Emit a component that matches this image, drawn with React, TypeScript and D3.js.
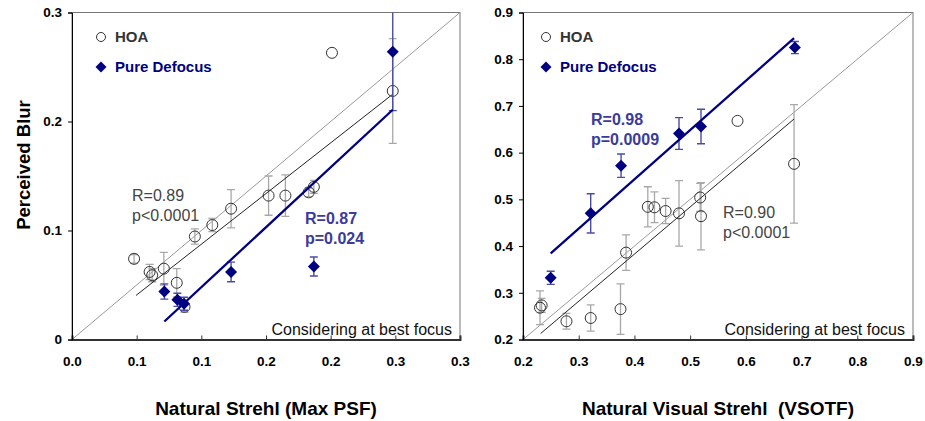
import { useEffect, useRef } from "react";
import * as d3 from "d3";

// ---- left panel: Natural Strehl (Max PSF) ----
const leftHoaX = [0.048, 0.06, 0.062, 0.071, 0.081, 0.087, 0.095, 0.1085, 0.123, 0.152, 0.165, 0.183, 0.187, 0.201, 0.248];
const leftHoaY = [0.074, 0.062, 0.059, 0.065, 0.052, 0.03, 0.0945, 0.105, 0.12, 0.132, 0.132, 0.135, 0.14, 0.263, 0.228];
const leftHoaErr = [0.004, 0.007, 0.006, 0.015, 0.013, 0.005, 0.007, 0.006, 0.0175, 0.018, 0.019, 0.004, 0.006, 0, 0.048];
const leftDefX = [0.0714, 0.0815, 0.0866, 0.123, 0.187, 0.248];
const leftDefY = [0.044, 0.0364, 0.0328, 0.062, 0.067, 0.264];
const leftDefErr = [0.007, 0.006, 0.006, 0.009, 0.0087, 0.054];
// fit lines: [slope, intercept, xStart, xEnd]
const leftHoaFit = [0.93, -0.0056, 0.0495, 0.248];
const leftDefFit = [1.1, -0.062, 0.0714, 0.248];
const leftXTicks = [0, 0.05, 0.1, 0.15, 0.2, 0.25, 0.3];
const leftXLabels = ["0.0", "0.1", "0.1", "0.2", "0.2", "0.3", "0.3"];
const leftYTicks = [0, 0.1, 0.2, 0.3];
const leftYLabels = ["0", "0.1", "0.2", "0.3"];

// ---- right panel: Natural Visual Strehl (VSOTF) ----
const rightHoaX = [0.2305, 0.2335, 0.278, 0.3215, 0.375, 0.385, 0.424, 0.436, 0.456, 0.48, 0.518, 0.5195, 0.585, 0.6865];
const rightHoaY = [0.268, 0.273, 0.239, 0.246, 0.265, 0.386, 0.484, 0.483, 0.475, 0.47, 0.504, 0.464, 0.668, 0.576];
const rightHoaErr = [0.036, 0.015, 0.017, 0.028, 0.054, 0.038, 0.043, 0.033, 0.027, 0.07, 0.03, 0.072, 0, 0.127];
const rightDefX = [0.2497, 0.3215, 0.376, 0.48, 0.5195, 0.688];
const rightDefY = [0.332, 0.47, 0.572, 0.641, 0.656, 0.825];
const rightDefErr = [0.014, 0.042, 0.025, 0.034, 0.037, 0.013];
const rightHoaFit = [1.0095, -0.021, 0.2317, 0.6865];
const rightDefFit = [1.055, 0.1209, 0.2497, 0.6865];
const rightXTicks = [0.2, 0.3, 0.4, 0.5, 0.6, 0.7, 0.8, 0.9];
const rightXLabels = ["0.2", "0.3", "0.4", "0.5", "0.6", "0.7", "0.8", "0.9"];
const rightYTicks = [0.2, 0.3, 0.4, 0.5, 0.6, 0.7, 0.8, 0.9];
const rightYLabels = ["0.2", "0.3", "0.4", "0.5", "0.6", "0.7", "0.8", "0.9"];

const NAVY = "#000080";
const STAT_BLUE = "#3b3b9c";
const FONT = "'Liberation Sans', Arial, Helvetica, sans-serif";

interface PanelProps {
  id: string;
  left: number;
  right: number;
  domain: [number, number];
  hoaX: number[]; hoaY: number[]; hoaErr: number[];
  defX: number[]; defY: number[]; defErr: number[];
  hoaFit: number[]; defFit: number[];
  xTicks: number[]; xLabels: string[];
  yTicks: number[]; yLabels: string[];
  title: string;
  hoaStat: { x: number; y: number; lines: string[] };
  defStat: { x: number; y: number; lines: string[] };
  legendX: number;
}

const TOP = 12.5, BOTTOM = 339.5;

function diamond(cx: number, cy: number, r: number) {
  return `M${cx},${cy - r}L${cx + r},${cy}L${cx},${cy + r}L${cx - r},${cy}Z`;
}

function Panel(p: PanelProps) {
  const xAxRef = useRef<SVGGElement>(null);
  const yAxRef = useRef<SVGGElement>(null);
  const x = d3.scaleLinear().domain(p.domain).range([p.left, p.right]);
  const y = d3.scaleLinear().domain(p.domain).range([BOTTOM, TOP]);

  useEffect(() => {
    const xa = d3.axisBottom(x).tickValues(p.xTicks).tickSize(-4).tickPadding(17)
      .tickFormat((_d, i) => p.xLabels[i]);
    d3.select(xAxRef.current!).call(xa as any)
      .call(g => g.select(".domain").attr("stroke", "#333").attr("stroke-width", 2))
      .call(g => g.selectAll(".tick line").attr("stroke", "#333"))
      .call(g => g.selectAll("text").attr("font-family", FONT).attr("font-weight", "bold")
        .attr("font-size", 13.5).attr("fill", "#000"));
    const ya = d3.axisLeft(y).tickValues(p.yTicks).tickSize(4).tickPadding(6)
      .tickFormat((_d, i) => p.yLabels[i]);
    d3.select(yAxRef.current!).call(ya as any)
      .call(g => g.select(".domain").attr("stroke", "#000"))
      .call(g => g.selectAll(".tick line").attr("stroke", "#000"))
      .call(g => g.selectAll("text").attr("font-family", FONT).attr("font-weight", "bold")
        .attr("font-size", 13.5).attr("fill", "#000"));
  });

  const fitPath = (f: number[]) => d3.line()([[x(f[2]), y(f[0] * f[2] + f[1])], [x(f[3]), y(f[0] * f[3] + f[1])]]) ?? "";
  const cap = 4;
  const cx = (p.left + p.right) / 2;

  return (
    <g>
      <defs>
        <clipPath id={`clip-${p.id}`}>
          <rect x={p.left} y={TOP} width={p.right - p.left} height={BOTTOM - TOP} />
        </clipPath>
      </defs>
      <rect x={p.left} y={TOP} width={p.right - p.left} height={BOTTOM - TOP} fill="#fff" stroke="#777" strokeWidth={1} />
      <g clipPath={`url(#clip-${p.id})`}>
        {/* identity line */}
        <path d={d3.line()([[x(p.domain[0]), y(p.domain[0])], [x(p.domain[1]), y(p.domain[1])]]) ?? ""}
          stroke="#999" strokeWidth={1} fill="none" />
        {/* HOA error bars */}
        {p.hoaX.map((v, i) => p.hoaErr[i] > 0 && (
          <g key={`he${i}`} stroke="#a8a8a8" strokeWidth={1.3}>
            <line x1={x(v)} x2={x(v)} y1={y(p.hoaY[i] - p.hoaErr[i])} y2={y(p.hoaY[i] + p.hoaErr[i])} />
            <line x1={x(v) - cap} x2={x(v) + cap} y1={y(p.hoaY[i] - p.hoaErr[i])} y2={y(p.hoaY[i] - p.hoaErr[i])} />
            <line x1={x(v) - cap} x2={x(v) + cap} y1={y(p.hoaY[i] + p.hoaErr[i])} y2={y(p.hoaY[i] + p.hoaErr[i])} />
          </g>
        ))}
        {/* HOA fit */}
        <path d={fitPath(p.hoaFit)} stroke="#222" strokeWidth={1} fill="none" />
        {/* HOA points */}
        {p.hoaX.map((v, i) => (
          <circle key={`hc${i}`} cx={x(v)} cy={y(p.hoaY[i])} r={5.5} fill="none" stroke="#333" strokeWidth={1} />
        ))}
        {/* Defocus error bars */}
        {p.defX.map((v, i) => (
          <g key={`de${i}`} stroke="#4b4ba6" strokeWidth={1.4}>
            <line x1={x(v)} x2={x(v)} y1={y(p.defY[i] - p.defErr[i])} y2={y(p.defY[i] + p.defErr[i])} />
            <line x1={x(v) - cap} x2={x(v) + cap} y1={y(p.defY[i] - p.defErr[i])} y2={y(p.defY[i] - p.defErr[i])} />
            <line x1={x(v) - cap} x2={x(v) + cap} y1={y(p.defY[i] + p.defErr[i])} y2={y(p.defY[i] + p.defErr[i])} />
          </g>
        ))}
        {/* Defocus fit */}
        <path d={fitPath(p.defFit)} stroke={NAVY} strokeWidth={2.3} fill="none" />
        {/* Defocus points */}
        {p.defX.map((v, i) => (
          <path key={`dp${i}`} d={diamond(x(v), y(p.defY[i]), 6)} fill={NAVY} />
        ))}
      </g>
      <g ref={xAxRef} transform={`translate(0,${BOTTOM})`} />
      <g ref={yAxRef} transform={`translate(${p.left},0)`} />

      {/* legend */}
      <circle cx={p.legendX} cy={37} r={4.5} fill="none" stroke="#333" strokeWidth={1} />
      <text x={p.legendX + 14} y={37} dy="0.35em" fontFamily={FONT} fontWeight="bold" fontSize={15} fill="#333">HOA</text>
      <path d={diamond(p.legendX, 67, 5.5)} fill={NAVY} />
      <text x={p.legendX + 14} y={67} dy="0.35em" fontFamily={FONT} fontWeight="bold" fontSize={15} fill={NAVY}>Pure Defocus</text>

      {/* statistics */}
      <text x={p.hoaStat.x} y={p.hoaStat.y} fontFamily={FONT} fontSize={16} fill="#444">
        {p.hoaStat.lines.map((l, i) => <tspan key={i} x={p.hoaStat.x} dy={i === 0 ? 0 : 19.5}>{l}</tspan>)}
      </text>
      <text x={p.defStat.x} y={p.defStat.y} fontFamily={FONT} fontSize={16} fontWeight="bold" fill={STAT_BLUE}>
        {p.defStat.lines.map((l, i) => <tspan key={i} x={p.defStat.x} dy={i === 0 ? 0 : 20}>{l}</tspan>)}
      </text>
      <text x={p.right - 8} y={BOTTOM - 5} textAnchor="end" fontFamily={FONT} fontSize={16} fill="#111">
        Considering at best focus
      </text>

      <text x={cx} y={408} dy="0.35em" textAnchor="middle" fontFamily={FONT} fontWeight="bold" fontSize={19}
        style={{ whiteSpace: "pre" }}>
        {p.title}
      </text>
    </g>
  );
}

export default function App() {
  return (
    <svg width={925} height={421} viewBox="0 0 925 421"
      style={{ position: "absolute", left: 0, top: 0, background: "#fff" }}>
      <rect width={925} height={421} fill="#fff" />
      <text transform="translate(24,165) rotate(-90)" textAnchor="middle" dy="0.35em"
        fontFamily={FONT} fontWeight="bold" fontSize={18.5}>Perceived Blur</text>
      <Panel id="l" left={72} right={460} domain={[0, 0.3]}
        hoaX={leftHoaX} hoaY={leftHoaY} hoaErr={leftHoaErr}
        defX={leftDefX} defY={leftDefY} defErr={leftDefErr}
        hoaFit={leftHoaFit} defFit={leftDefFit}
        xTicks={leftXTicks} xLabels={leftXLabels} yTicks={leftYTicks} yLabels={leftYLabels}
        title="Natural Strehl (Max PSF)"
        hoaStat={{ x: 132, y: 201, lines: ["R=0.89", "p<0.0001"] }}
        defStat={{ x: 305, y: 224, lines: ["R=0.87", "p=0.024"] }}
        legendX={101} />
      <Panel id="r" left={523} right={913} domain={[0.2, 0.9]}
        hoaX={rightHoaX} hoaY={rightHoaY} hoaErr={rightHoaErr}
        defX={rightDefX} defY={rightDefY} defErr={rightDefErr}
        hoaFit={rightHoaFit} defFit={rightDefFit}
        xTicks={rightXTicks} xLabels={rightXLabels} yTicks={rightYTicks} yLabels={rightYLabels}
        title={"Natural Visual Strehl  (VSOTF)"}
        hoaStat={{ x: 723, y: 218, lines: ["R=0.90", "p<0.0001"] }}
        defStat={{ x: 591, y: 125, lines: ["R=0.98", "p=0.0009"] }}
        legendX={546} />
    </svg>
  );
}
